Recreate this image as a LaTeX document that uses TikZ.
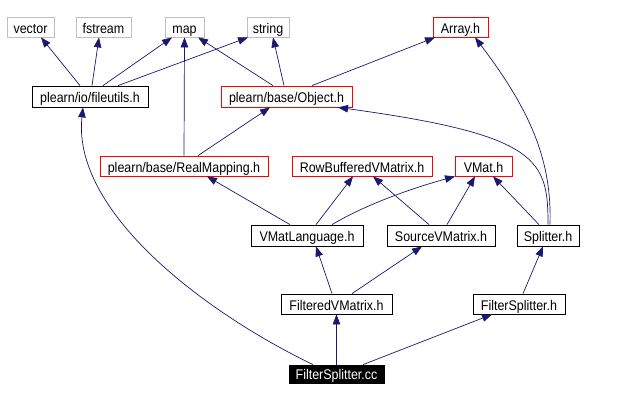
\documentclass[tikz,border=0pt]{standalone}
\usepackage{fontspec}
\setmainfont{Liberation Sans}[FakeStretch=0.89]
\usepackage{xcolor}
\definecolor{edgeblue}{RGB}{25,25,112}
\definecolor{sysgrey}{RGB}{191,191,191}
\definecolor{cutred}{RGB}{255,0,0}
\usetikzlibrary{arrows.meta}

\begin{document}
\begin{tikzpicture}[x=1pt, y=-1pt,
    hdr/.style={rectangle, draw=black, fill=white, line width=0.8pt,
                inner sep=0pt, minimum height=20pt,
                text height=13pt, text depth=0.4pt,
                font=\fontsize{14}{16}\selectfont},
    syshdr/.style={hdr, draw=sysgrey},
    cuthdr/.style={hdr, draw=cutred},
    srcfile/.style={hdr, fill=black, text=white, minimum height=18pt,
                    text height=12pt, text depth=0.6pt},
    inc/.style={-{Triangle[length=10pt,width=7.5pt]}, edgeblue, line width=0.7pt},
  ]
    \useasboundingbox (0,0) rectangle (617,401);

    % system and top-level headers
    \node[syshdr, minimum width=47pt] (vector)  at (30.5,27)  {vector};
    \node[syshdr, minimum width=55pt] (fstream) at (103.5,27) {fstream};
    \node[syshdr, minimum width=39pt] (map)     at (184.5,27) {map};
    \node[syshdr, minimum width=42pt] (string)  at (268,27)   {string};
    \node[cuthdr, minimum width=55pt] (array)   at (460.5,27) {Array.h};

    \node[hdr,    minimum width=116pt, minimum height=21pt] (fileutils) at (90,96.5)    {plearn/io/fileutils.h};
    \node[cuthdr, minimum width=131pt, minimum height=21pt] (object)    at (286.5,96.5) {plearn/base/Object.h};

    \node[cuthdr, minimum width=168pt] (realmap) at (184,166)   {plearn/base/RealMapping.h};
    \node[cuthdr, minimum width=140pt] (rowbuf)  at (362,166)   {RowBufferedVMatrix.h};
    \node[cuthdr, minimum width=57pt]  (vmat)    at (483.5,166) {VMat.h};

    \node[hdr, minimum width=112pt, minimum height=21pt] (vmatlang) at (307,235.5) {VMatLanguage.h};
    \node[hdr, minimum width=108pt, minimum height=21pt] (srcvmat)  at (441,235.5) {SourceVMatrix.h};
    \node[hdr, minimum width=62pt,  minimum height=21pt] (splitter) at (548,235.5) {Splitter.h};

    \node[hdr, minimum width=111pt] (filtvmat) at (336.5,304) {FilteredVMatrix.h};
    \node[hdr, minimum width=92pt]  (fsplith)  at (519,304)   {FilterSplitter.h};

    \node[srcfile, minimum width=95pt] (fsplitcc) at (336.5,374) {FilterSplitter.cc};

    % includes
    \draw[inc] ([xshift=-10pt]fileutils.north) -- ([xshift=10.5pt]vector.south);
    \draw[inc] ([xshift=2pt]fileutils.north)   -- ([xshift=-4.5pt]fstream.south);
    \draw[inc] ([xshift=13pt]fileutils.north)  -- ([xshift=-12.5pt]map.south);
    \draw[inc] ([xshift=28pt]fileutils.north)  -- ([xshift=-20pt]string.south);

    \draw[inc] ([xshift=-13.5pt]object.north) -- ([xshift=13.5pt]map.south);
    \draw[inc] ([xshift=-2.5pt]object.north)  -- ([xshift=5pt]string.south);
    \draw[inc] ([xshift=25.5pt]object.north)  -- ([xshift=-25.5pt]array.south);

    \draw[inc] (realmap.north) -- (map.south);
    \draw[inc] ([xshift=14pt]realmap.north) -- ([xshift=-16.5pt]object.south);

    \draw[inc] ([xshift=-17pt]vmatlang.north) -- ([xshift=23pt]realmap.south);
    \draw[inc] ([xshift=9pt]vmatlang.north)   -- ([xshift=-9pt]rowbuf.south);
    \draw[inc] ([xshift=25pt]vmatlang.north) .. controls (370,202) and (420,186) .. ([xshift=-28.5pt]vmat.south);

    \draw[inc] ([xshift=-12pt]srcvmat.north) -- ([xshift=11pt]rowbuf.south);
    \draw[inc] ([xshift=6pt]srcvmat.north)   -- ([xshift=-8.5pt]vmat.south);

    \draw[inc] ([xshift=-9pt]splitter.north) -- ([xshift=9.5pt]vmat.south);
    \draw[inc] (splitter.north) .. controls (548,160) and (540,135) .. ([xshift=51.5pt]object.south);
    \draw[inc] ([xshift=2pt]splitter.north) .. controls (552,160) and (530,110) .. ([xshift=14.5pt]array.south);

    \draw[inc] ([xshift=-4.5pt]filtvmat.north) -- ([xshift=9pt]vmatlang.south);
    \draw[inc] ([xshift=15.5pt]filtvmat.north) -- ([xshift=-19pt]srcvmat.south);

    \draw[inc] ([xshift=4pt]fsplith.north) -- ([xshift=-5pt]splitter.south);

    \draw[inc] ([xshift=-23.5pt]fsplitcc.north) .. controls (200,310) and (72,210) .. ([xshift=-7pt]fileutils.south);
    \draw[inc] (fsplitcc.north) -- (filtvmat.south);
    \draw[inc] ([xshift=26.5pt]fsplitcc.north) -- ([xshift=-27pt]fsplith.south);
  \end{tikzpicture}
\end{document}
